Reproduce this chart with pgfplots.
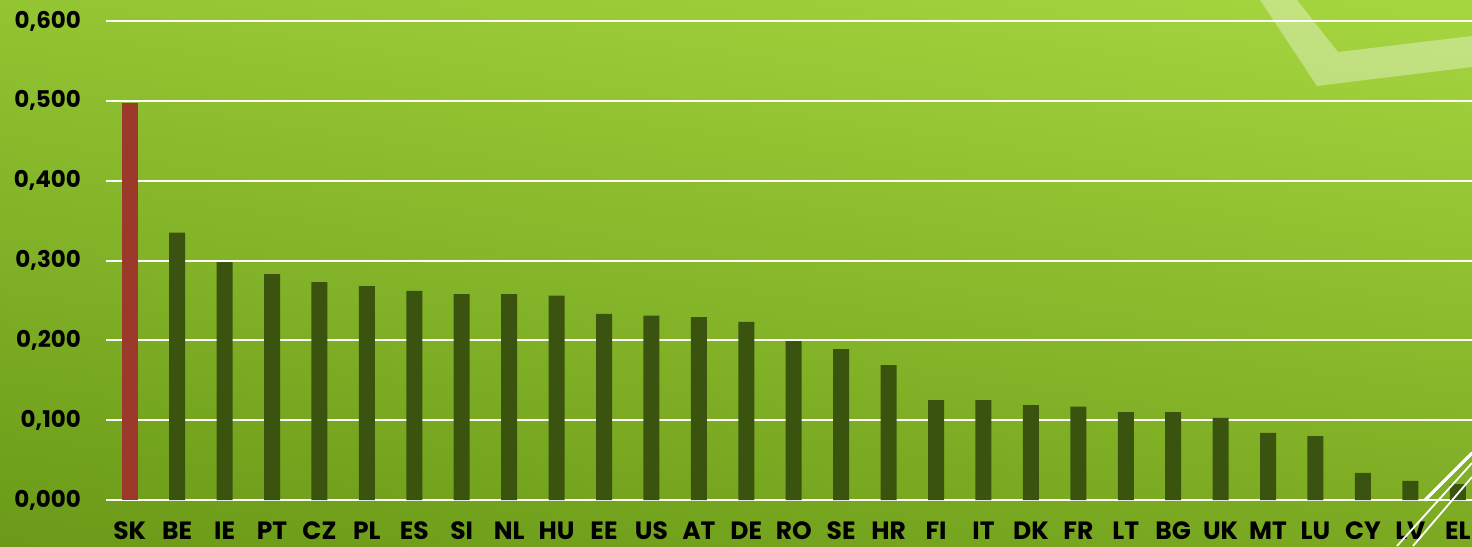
\documentclass[border=0pt]{standalone}
\usepackage{fontspec}
\setmainfont{Poppins}
\usepackage{pgfplots}
\pgfplotsset{compat=1.18}
\usetikzlibrary{shadings}
\definecolor{barg}{HTML}{3A5410}
\definecolor{skred}{HTML}{9B3A2A}
\definecolor{ul}{HTML}{93C432}
\definecolor{ur}{HTML}{A6D63F}
\definecolor{ll}{HTML}{6A9A18}
\definecolor{lr}{HTML}{7BAA22}
\begin{document}
\begin{tikzpicture}
\shade[upper left=ul, upper right=ur, lower left=ll, lower right=lr] (-53pt,-23pt) rectangle (683pt,250pt);
\useasboundingbox (-53pt,-23pt) rectangle (683pt,250pt);
\fill[white, opacity=0.35] (577pt,250pt) -- (605.5pt,207pt) -- (683pt,216.5pt) -- (683pt,232pt) -- (616pt,224pt) -- (595.5pt,250pt) -- cycle;
\begin{axis}[
  at={(0,0)}, anchor=south west,
  scale only axis, width=683pt, height=239.5pt,
  xmin=-0.5, xmax=28.3, ymin=0, ymax=0.6,
  axis line style={draw=none},
  major tick length=0pt,
  ymajorgrids, grid style={white, line width=1pt},
  ytick={0,0.1,0.2,0.3,0.4,0.5,0.6},
  yticklabel style={/pgf/number format/fixed, /pgf/number format/fixed zerofill, /pgf/number format/precision=3, /pgf/number format/use comma, /pgf/number format/assume math mode=true},
  yticklabel style={font=\fontsize{11.5}{14}\selectfont\bfseries, anchor=east, xshift=-9pt},
  xtick={0,...,28},
  xticklabels={SK,BE,IE,PT,CZ,PL,ES,SI,NL,HU,EE,US,AT,DE,RO,SE,HR,FI,IT,DK,FR,LT,BG,UK,MT,LU,CY,LV,EL},
  xticklabel style={font=\fontsize{12.5}{14}\selectfont\bfseries, anchor=north, yshift=-7.5pt},
  ybar, bar width=8pt, bar shift=0pt,
]
\addplot[fill=skred, draw=none] coordinates {(0,0.497)};
\addplot[fill=barg, draw=none] coordinates {
(1,0.335) (2,0.298) (3,0.283) (4,0.273) (5,0.268) (6,0.262) (7,0.258) (8,0.258) (9,0.256)
(10,0.233) (11,0.231) (12,0.229) (13,0.223) (14,0.199) (15,0.189) (16,0.169) (17,0.125)
(18,0.125) (19,0.119) (20,0.117) (21,0.110) (22,0.110) (23,0.103) (24,0.084) (25,0.080)
(26,0.034) (27,0.024) (28,0.020)};
\end{axis}
\draw[white, line width=1.6pt, line cap=round] (659.5pt,0pt) -- (683pt,23.5pt);
\draw[white, line width=0.9pt] (645.5pt,-23pt) -- (683pt,18.5pt);
\draw[white, line width=0.9pt] (653.5pt,-23pt) -- (683pt,11.5pt);
\end{tikzpicture}
\end{document}
